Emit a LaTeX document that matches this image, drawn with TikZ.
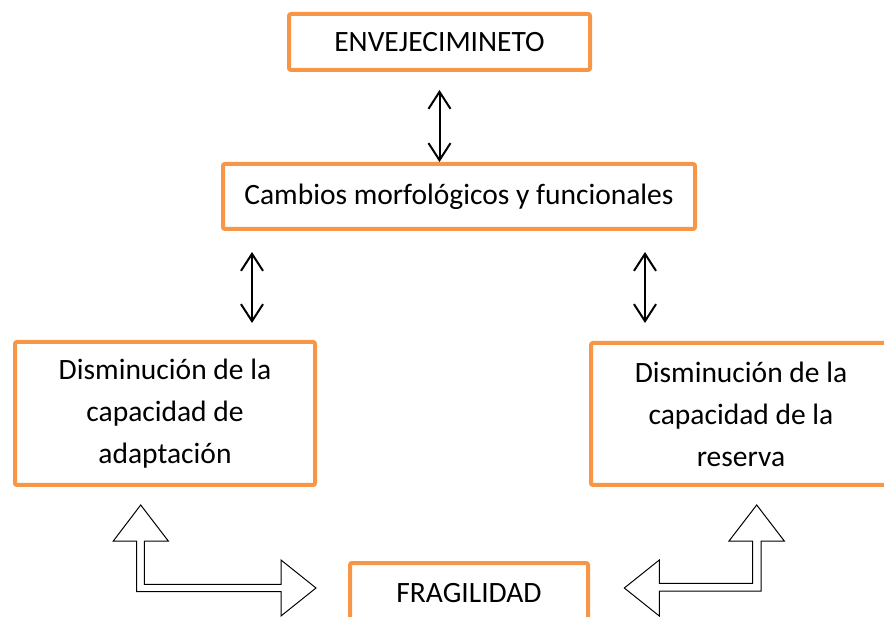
\documentclass[tikz,border=0pt]{standalone}
\usepackage{fontspec}
\setmainfont{Carlito}
\usepackage{tikz}
\usetikzlibrary{arrows.meta,
                positioning}
\definecolor{boxorange}{HTML}{F79646}
\tikzstyle{stage} = [rectangle, rounded corners=2pt, draw=boxorange, line width=4pt, text centered, align=center, font=\fontsize{29.5}{42}\selectfont]
\tikzstyle{dblarrow} = [line width=2pt, {Straight Barb[length=17pt,width=22pt]}-{Straight Barb[length=17pt,width=22pt]}]
\tikzstyle{hollowarrow} = [line width=1pt, draw=black, fill=white, line join=miter]

\begin{document}
\begin{tikzpicture}[x=1pt, y=-1pt]
\useasboundingbox (0,0) rectangle (884,617);
\node (env) [stage, minimum width=301pt, minimum height=56pt] at (439.5,42) {ENVEJECIMINETO};
\node (cam) [stage, minimum width=472pt, minimum height=65pt] at (459,196.5) {Cambios morfológicos y funcionales};
\node (adapt) [stage, minimum width=300pt, minimum height=143pt] at (165,413.5) {Disminución de la\\capacidad de\\adaptación};
\node (reserva) [stage, minimum width=300pt, minimum height=142pt] at (741,414) {Disminución de la\\capacidad de la\\reserva};
\node (frag) [stage, minimum width=238pt, minimum height=60pt] at (469,593) {FRAGILIDAD};
% double arrows
\coordinate (la1) at (252,252);
\coordinate (la2) at (252,323);
\coordinate (ra1) at (645,252);
\coordinate (ra2) at (645,323);
\draw [dblarrow, shorten <=18pt] (env.south) -- (env.south |- cam.north);
\draw [dblarrow] (la1) -- (la2);
\draw [dblarrow] (ra1) -- (ra2);
% hollow arrows towards FRAGILIDAD
\draw [hollowarrow] (140.7,505) -- (168.3,541) -- (144.3,541) -- (144.3,584.3) -- (281,584.3) -- (281,560) -- (316,588) -- (281,616) -- (281,591.7) -- (136.7,591.7) -- (136.7,541) -- (113.3,541) -- cycle;
\draw [hollowarrow] (756.7,505) -- (784.3,541) -- (761,541) -- (761,591) -- (659.3,591) -- (659.3,616) -- (624.3,588) -- (659.3,560) -- (659.3,583.3) -- (752.7,583.3) -- (752.7,541) -- (729,541) -- cycle;
\end{tikzpicture}
\end{document}
